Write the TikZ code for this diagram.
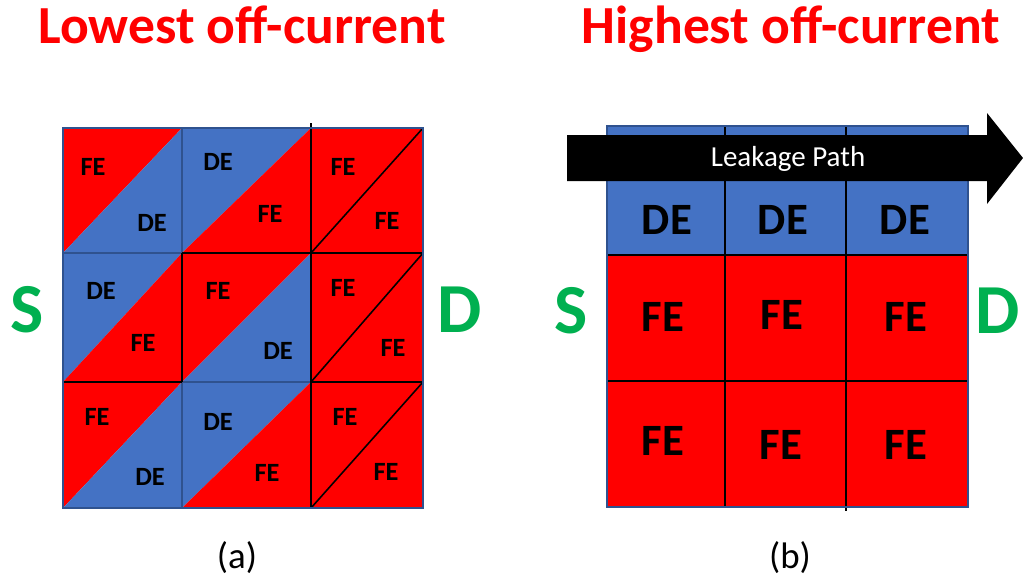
\documentclass[tikz,border=0pt]{standalone}
\usepackage{fontspec}
\setmainfont{Carlito}
\definecolor{feRed}{HTML}{FF0000}
\definecolor{deBlue}{HTML}{4472C4}
\definecolor{cellEdge}{HTML}{2F528F}
\definecolor{sdGreen}{HTML}{00B050}
\tikzset{
	title/.style={text=feRed, anchor=base, font=\bfseries\fontsize{30.5}{30.5}\selectfont},
	lbl/.style={font=\bfseries\fontsize{15}{15}\selectfont},
	biglbl/.style={font=\bfseries\fontsize{25.5}{25.5}\selectfont},
	terminal/.style={text=sdGreen, anchor=base, font=\bfseries\fontsize{40}{40}\selectfont},
	caption/.style={font=\fontsize{21}{21}\selectfont},
	edge/.style={draw=cellEdge, line width=0.8pt},
	grid/.style={draw=black, line width=0.9pt}
}

\begin{document}
\begin{tikzpicture}[x=0.02cm, y=-0.02cm]
	\useasboundingbox (0,0) rectangle (1023,583);
	% titles
	\node[title] (titleA) at (242,43) {Lowest off-current};
	\node[title] (titleB) at (791,43) {Highest off-current};
	% (a) cells split along the diagonal
	\foreach \xa/\xb/\ya/\yb/\ul/\lr in {
		63/182/128/253/feRed/deBlue, 182/311/128/253/deBlue/feRed, 311/423/128/253/feRed/feRed,
		63/182/253/382/deBlue/feRed, 182/311/253/382/feRed/deBlue, 311/423/253/382/feRed/feRed,
		63/182/382/508/feRed/deBlue, 182/311/382/508/deBlue/feRed, 311/423/382/508/feRed/feRed}
	{
		\fill[\ul] (\xa,\yb) -- (\xa,\ya) -- (\xb,\ya) -- cycle;
		\fill[\lr] (\xa,\yb) -- (\xb,\yb) -- (\xb,\ya) -- cycle;
	}
	\draw[edge] (182,128) -- (182,508);
	\draw[edge] (63,253) -- (423,253);
	\draw[edge] (63,382) -- (423,382);
	\draw[grid] (311,123) -- (311,508);
	\draw[grid] (182,253) -- (182,382);
	\draw[grid] (182,253) -- (423,253);
	\draw[grid] (63,382) -- (182,382);
	\draw[grid] (311,382) -- (423,382);
	\draw[grid] (311,253) -- (423,128);
	\draw[grid] (311,382) -- (423,253);
	\draw[grid] (311,508) -- (423,382);
	\draw[edge] (63,128) rectangle (423,508);
	% (a) labels
	\foreach \name/\px/\py/\txt in {
		a1/93/167/FE, a2/152/223/DE, a3/218/162/DE, a4/270/214/FE, a5/343/167/FE, a6/387/221/FE,
		a7/101/291/DE, a8/143/343/FE, a9/218/291/FE, a10/278/351/DE, a11/343/288/FE, a12/393/348/FE,
		a13/97/417/FE, a14/150/477/DE, a15/218/422/DE, a16/267/473/FE, a17/345/417/FE, a18/386/472/FE}
		\node[lbl] (\name) at (\px,\py) {\txt};
	\node[terminal] (Sa) at (27,332) {S};
	\node[terminal] (Da) at (460,332) {D};
	\node[caption] (capA) at (237,558) {(a)};
	% (b) layered cells
	\fill[deBlue] (607,126) rectangle (968,255);
	\fill[feRed] (607,255) rectangle (968,507);
	\draw[grid] (725,126) -- (725,508);
	\draw[grid] (846,126) -- (846,511);
	\draw[grid] (725,126) -- (846,126);
	\draw[grid] (607,255) -- (968,255);
	\draw[grid] (607,381) -- (968,381);
	\draw[edge] (607,126) rectangle (968,507);
	% leakage arrow
	\fill[black] (567,135) -- (987,135) -- (987,113) -- (1023,158)
		-- (987,204) -- (987,181) -- (567,181) -- cycle;
	\node[text=white, font=\fontsize{16.5}{16.5}\selectfont] (leak) at (788,159) {Leakage Path};
	% (b) labels
	\foreach \name/\px/\py/\txt in {
		b1/667/220/DE, b2/783/220/DE, b3/905/220/DE,
		b4/663/317/FE, b5/782/315/FE, b6/906/317/FE,
		b7/663/441/FE, b8/781/445/FE, b9/906/445/FE}
		\node[biglbl] (\name) at (\px,\py) {\txt};
	\node[terminal] (Sb) at (571,333) {S};
	\node[terminal] (Db) at (998,333) {D};
	\node[caption] (capB) at (790,558) {(b)};
\end{tikzpicture}
\end{document}
